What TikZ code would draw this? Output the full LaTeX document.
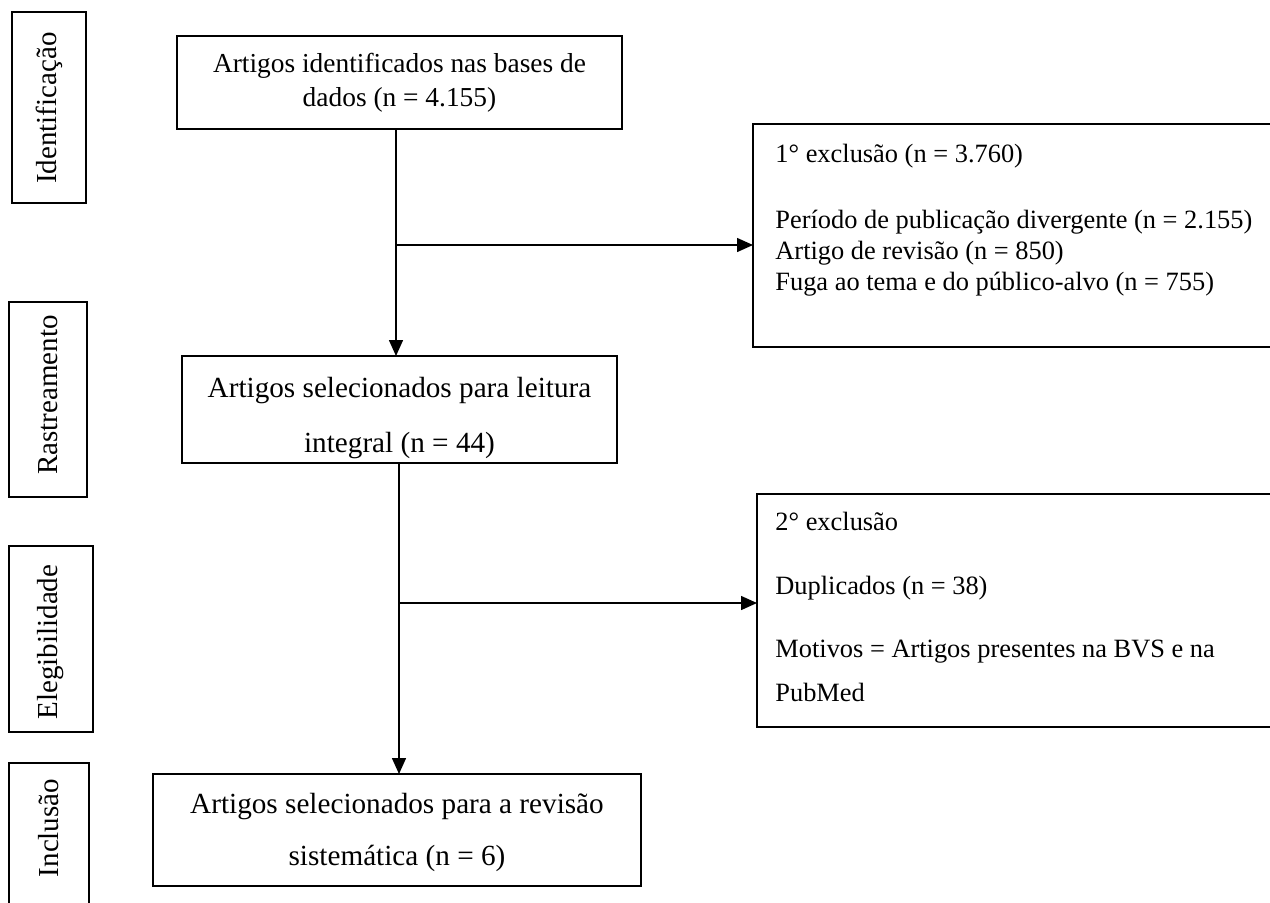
\documentclass[tikz,border=0pt]{standalone}
\usepackage{fontspec}
\setmainfont{Liberation Serif}
\usetikzlibrary{arrows.meta}
\begin{document}
\begin{tikzpicture}[x=0.5pt,y=-0.5pt,
  box/.style={draw=black,line width=0.75pt,inner sep=0pt,outer sep=0pt},
  lbl/.style={inner sep=0pt,font=\fontsize{13.5}{16}\selectfont},
  lblA/.style={inner sep=0pt,font=\fontsize{13.7}{16}\selectfont},
  lblB/.style={inner sep=0pt,font=\fontsize{14.6}{17}\selectfont},
  lblC/.style={inner sep=0pt,font=\fontsize{13.2}{16}\selectfont},
  side/.style={inner sep=0pt,font=\fontsize{14.5}{17}\selectfont,rotate=90},
  arr/.style={line width=0.75pt,-{Triangle[length=8pt,width=7pt]}}
]
\useasboundingbox (0,0) rectangle (1270,902);
\clip (0,0) rectangle (1270,902);

% side stage boxes
\node[box,minimum width=37pt,minimum height=95.5pt] (s1) at (49,107.5) {};
\node[box,minimum width=39pt,minimum height=97.5pt] (s2) at (48,399.5) {};
\node[box,minimum width=42pt,minimum height=93pt] (s3) at (51,639) {};
\node[box,minimum width=40pt,minimum height=98.5pt] (s4) at (49,861.5) {};
\node[side] (t1) at (49,108) {Identificação};
\node[side] (t2) at (48,395) {Rastreamento};
\node[side] (t3) at (51,642) {Elegibilidade};
\node[side] (t4) at (49,828) {Inclusão};

% main boxes
\node[box,minimum width=222.5pt,minimum height=46.5pt] (b1) at (399.5,82.5) {};
\node[box,minimum width=217.5pt,minimum height=53.5pt] (b2) at (399.5,409.5) {};
\node[box,minimum width=244pt,minimum height=56pt] (b4) at (397,830) {};
\node[box,minimum width=261pt,minimum height=111.5pt] (b3) at (1014,235.5) {};
\node[box,minimum width=259pt,minimum height=116.5pt] (b5) at (1016,610.5) {};

% texts
\node[lblA,anchor=base] (b1a) at (399.5,72) {Artigos identificados nas bases de};
\node[lblA,anchor=base] (b1b) at (399.5,106) {dados (n = 4.155)};
\node[lblB,anchor=base] (b2a) at (399.5,397) {Artigos selecionados para leitura};
\node[lblB,anchor=base] (b2b) at (399.5,452) {integral (n = 44)};
\node[lblB,anchor=base] (b4a) at (397,813) {Artigos selecionados para a revisão};
\node[lblB,anchor=base] (b4b) at (397,865) {sistemática (n = 6)};

\node[lblC,anchor=base west] (b3a) at (775,162) {1° exclusão (n = 3.760)};
\node[lblC,anchor=base west] (b3b) at (775,228) {Período de publicação divergente (n = 2.155)};
\node[lblC,anchor=base west] (b3c) at (775,259) {Artigo de revisão (n = 850)};
\node[lblC,anchor=base west] (b3d) at (775,290) {Fuga ao tema e do público-alvo (n = 755)};

\node[lblC,anchor=base west] (b5a) at (775,530) {2° exclusão};
\node[lblC,anchor=base west] (b5b) at (775,594) {Duplicados (n = 38)};
\node[lblC,anchor=base west] (b5c) at (775,657) {Motivos = Artigos presentes na BVS e na};
\node[lblC,anchor=base west] (b5d) at (775,701) {PubMed};

% connectors
\coordinate (j1) at (396,245);
\coordinate (j2) at (399,603);
\draw[arr] (b1.south -| j1) -- (b2.north -| j1);
\draw[arr] (j1) -- (j1 -| b3.west);
\draw[arr] (b2.south -| j2) -- (b4.north -| j2);
\draw[arr] (j2) -- (j2 -| b5.west);
\end{tikzpicture}
\end{document}
